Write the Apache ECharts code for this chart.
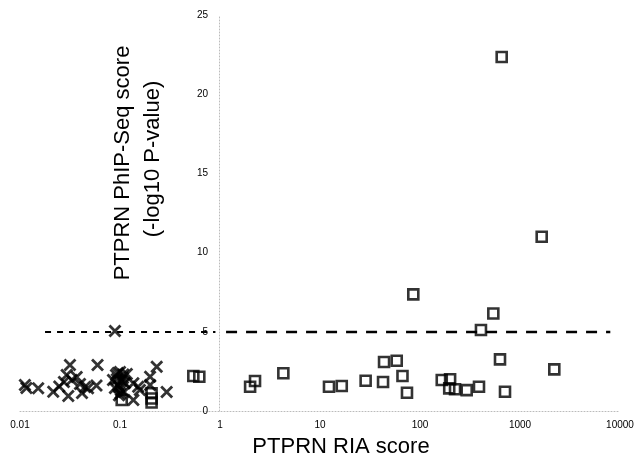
<!DOCTYPE html>
<html>
<head>
<meta charset="utf-8">
<script src="https://cdn.jsdelivr.net/npm/echarts@6/dist/echarts.min.js"></script>
<style>
  html, body { margin: 0; padding: 0; background: #fff; }
  #chart { width: 639px; height: 463px; }
</style>
</head>
<body>
<div id="chart"></div>
<script>
// RIA negative samples (crosses)
const crossX = [0.0112, 0.0116, 0.0152, 0.0215, 0.0247, 0.0275, 0.0293, 0.0304, 0.0316, 0.0329,
  0.0369, 0.0398, 0.0417, 0.0447, 0.0479, 0.0582, 0.0596, 0.089, 0.0851, 0.0912,
  0.0955, 0.1, 0.102, 0.107, 0.112, 0.117, 0.0977, 0.089, 0.11, 0.136,
  0.152, 0.136, 0.158, 0.2, 0.2, 0.233, 0.293,
  0.093, 0.105, 0.098, 0.108, 0.095, 0.101];
const crossY = [1.64, 1.45, 1.43, 1.22, 1.55, 1.83, 2.27, 0.95, 2.9, 1.96,
  2.15, 1.70, 1.14, 1.51, 1.43, 1.61, 2.9, 5.05, 1.96, 2.27,
  1.64, 2.46, 1.32, 2.08, 1.77, 2.33, 1.0, 1.45, 1.2, 1.75,
  1.53, 0.69, 1.32, 2.16, 1.64, 2.8, 1.2,
  2.0, 1.9, 1.5, 2.3, 2.4, 1.1];

// RIA scored samples (squares)
const squareX = [0.104, 0.207, 0.207, 0.207, 0.541, 0.621, 2.0, 2.24, 4.3, 12.3,
  16.5, 28.6, 42.7, 43.7, 58.5, 66.8, 74.1, 85.7, 165, 200,
  196, 224, 293, 389, 407, 541, 631, 656, 708, 1648, 2203];
const squareY = [0.69, 1.12, 0.79, 0.54, 2.21, 2.16, 1.53, 1.89, 2.38, 1.53,
  1.58, 1.91, 1.83, 3.09, 3.17, 2.21, 1.15, 7.36, 1.96, 2.0,
  1.43, 1.37, 1.32, 1.53, 5.11, 6.16, 3.26, 22.35, 1.22, 11.0, 2.63];

const xTickLabels = ['0.01', '0.1', '1', '10', '100', '1000', '10000'];
const yTicks = [0, 5, 10, 15, 20, 25];
const cutoff = 5;

const chart = echarts.init(document.getElementById('chart'));

const crossData = crossX.map((x, i) => [x, crossY[i]]);
const squareData = squareX.map((x, i) => [x, squareY[i]]);

const titleFont = '22px "Liberation Sans", Arial, sans-serif';

const option = {
  backgroundColor: '#fff',
  animation: false,
  textStyle: { fontFamily: 'Liberation Sans, Arial, sans-serif' },
  grid: { left: 20, right: 19, top: 15, bottom: 52 },
  xAxis: {
    type: 'log',
    logBase: 10,
    min: 0.01,
    max: 10000,
    axisLine: { lineStyle: { color: '#bbb', type: [1, 2], width: 1 } },
    axisTick: { show: false },
    splitLine: { show: false },
    minorTick: { show: false },
    axisLabel: {
      fontSize: 10,
      color: '#000',
      margin: 9,
      formatter: (v) => {
        const k = Math.round(Math.log10(v)) + 2;
        return xTickLabels[k] !== undefined ? xTickLabels[k] : '';
      }
    }
  },
  yAxis: {
    type: 'value',
    min: yTicks[0],
    max: yTicks[yTicks.length - 1],
    interval: 5,
    position: 'left',
    offset: -199,
    axisLine: { show: true, lineStyle: { color: '#bbb', type: [1, 2], width: 1 } },
    axisTick: { show: false },
    splitLine: { show: false },
    axisLabel: { fontSize: 10, color: '#000', margin: 11 }
  },
  graphic: [
    {
      type: 'text',
      x: 341, y: 447,
      style: {
        text: 'PTPRN RIA score',
        font: titleFont,
        fill: '#000',
        align: 'center',
        verticalAlign: 'middle'
      }
    },
    {
      type: 'text',
      x: 123, y: 163,
      rotation: Math.PI / 2,
      style: {
        text: 'PTPRN PhIP-Seq score',
        font: titleFont,
        fill: '#000',
        align: 'center',
        verticalAlign: 'middle'
      }
    },
    {
      type: 'text',
      x: 153, y: 159,
      rotation: Math.PI / 2,
      style: {
        text: '(-log10 P-value)',
        font: titleFont,
        fill: '#000',
        align: 'center',
        verticalAlign: 'middle'
      }
    }
  ],
  series: [
    {
      name: 'cutoff',
      type: 'line',
      data: [],
      markLine: {
        symbol: 'none',
        silent: true,
        label: { show: false },
        data: [
          [
            { coord: [0.0178, cutoff], lineStyle: { type: [6, 6], width: 2.2, color: '#000' } },
            { coord: [0.9, cutoff] }
          ],
          [
            { coord: [1.15, cutoff], lineStyle: { type: [11, 9], width: 2.4, color: '#000' } },
            { coord: [8000, cutoff] }
          ]
        ]
      }
    },
    {
      name: 'RIA negative',
      type: 'scatter',
      data: crossData,
      symbol: 'path://M0,0L10,10M10,0L0,10',
      symbolSize: 11,
      itemStyle: { color: 'rgba(0,0,0,0)', borderColor: '#000', borderWidth: 2.8 }
    },
    {
      name: 'RIA scored',
      type: 'scatter',
      data: squareData,
      symbol: 'rect',
      symbolSize: 10,
      itemStyle: { color: 'rgba(255,255,255,0)', borderColor: '#000', borderWidth: 2.6 }
    }
  ]
};

chart.setOption(option);
</script>
</body>
</html>
